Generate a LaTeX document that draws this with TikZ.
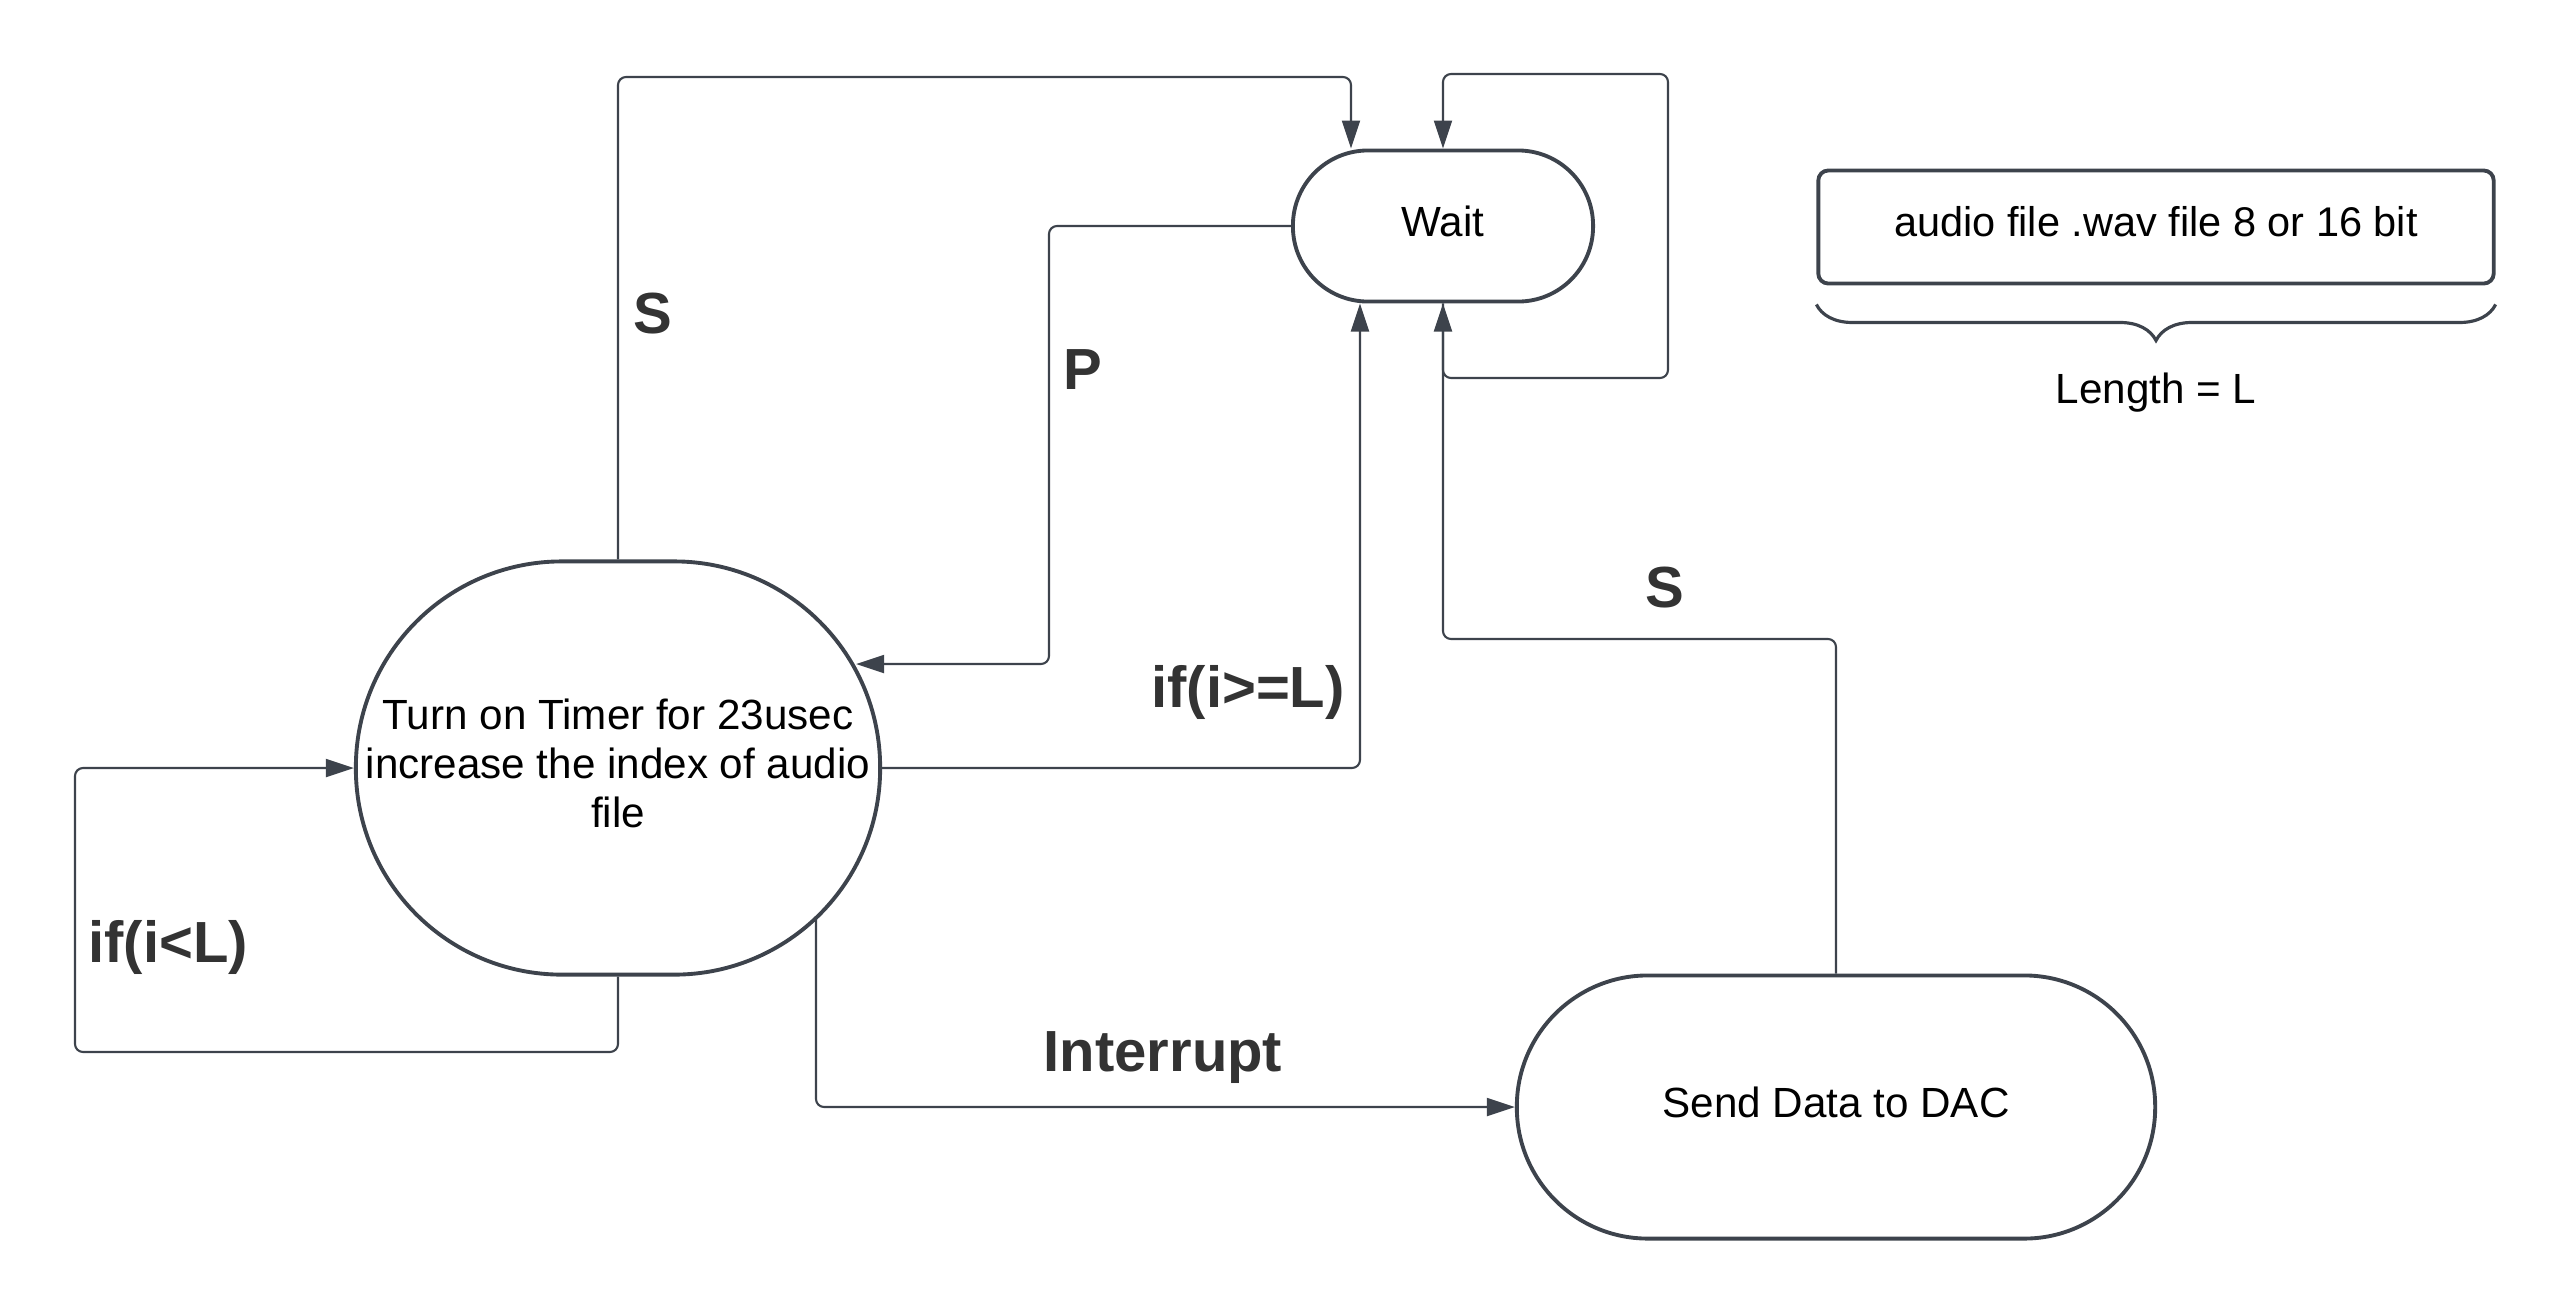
\documentclass[tikz,border=0pt]{standalone}
\usepackage{fontspec}
\setmainfont{Liberation Sans}
\usepackage{tikz}
\usetikzlibrary{arrows.meta,calc}
\usetikzlibrary{decorations.pathreplacing}
\definecolor{linegray}{HTML}{3D434C}
\definecolor{labelgray}{HTML}{333333}

\begin{document}
\begin{tikzpicture}[x=0.01cm,y=-0.01cm,
    stadium/.style={draw=linegray, line width=1.1pt, fill=white, inner sep=0pt, text depth=0.1cm,
      rounded corners=#1, align=center, font=\fontsize{12}{13.9}\selectfont},
    link/.style={draw=linegray, line width=0.6pt, rounded corners=0.08cm},
    tip/.style={-{Triangle[length=0.28cm,width=0.18cm]}},
    lbl/.style={text=labelgray, font=\fontsize{16.5}{19}\selectfont\bfseries}]
    \useasboundingbox (0,0) rectangle (2569,1314);
    % States
    \node[stadium=0.75cm, minimum width=3cm, minimum height=1.51cm] (wait) at (1443,226) {Wait};
    \node[stadium=2.06cm, minimum width=5.24cm, minimum height=4.13cm] (timer) at (618,768)
        {Turn on Timer for 23usec\\increase the index of audio\\file};
    \node[stadium=1.31cm, minimum width=6.38cm, minimum height=2.63cm] (dac) at (1836,1107) {Send Data to DAC};
    % Audio file box
    \node[draw=linegray, line width=1.1pt, rounded corners=0.1cm, minimum width=6.75cm, minimum height=1.13cm,
        text depth=0.12cm, font=\fontsize{11.8}{13.9}\selectfont] (audio) at (2156,227) {audio file .wav file 8 or 16 bit};
    \draw[linegray, line width=0.9pt, decorate, decoration={brace, mirror, amplitude=0.36cm}]
        ($(audio.south west)+(0,19)$) -- ($(audio.south east)+(0,19)$);
    \node[font=\fontsize{12}{13.9}\selectfont] (len) at (2156,393) {Length = L};
    % Timer -> Wait (S)
    \draw[link, tip] (timer.north) -- (618,77) -| ($(wait.north)+(-92,0)$);
    % Wait self loop
    \draw[link, tip] (wait.south) -- (1443,378) -| (1668,74) -| (wait.north);
    % Wait -> Timer (P)
    \draw[link, tip] (wait.west) -| (1049,664) -- ($(timer.east)+(-26,-104)$);
    % Timer -> Wait, if(i>=L)
    \draw[link, tip] (timer.east) -| ($(wait.south)+(-83,0)$);
    % Timer -> Timer, if(i<L)
    \draw[link, tip] (timer.south) -- (618,1052) -| (75,768) -- (timer.west);
    % Timer -> DAC (Interrupt)
    \draw[link, tip] ($(timer.center)+(198,151)$) |- (dac.west);
    % DAC -> Wait (S)
    \draw[link, tip] (dac.north) -- (1836,639) -| (wait.south);
    % Labels
    \node[lbl] (sTimer) at (653,314) {S};
    \node[lbl] (pWait) at (1083,370) {P};
    \node[lbl] (geL) at (1248,692) {if(i>=L)};
    \node[lbl] (ltL) at (168,947) {if(i<L)};
    \node[lbl] (intr) at (1163,1058) {Interrupt};
    \node[lbl] (sDac) at (1665,588) {S};
\end{tikzpicture}
\end{document}
